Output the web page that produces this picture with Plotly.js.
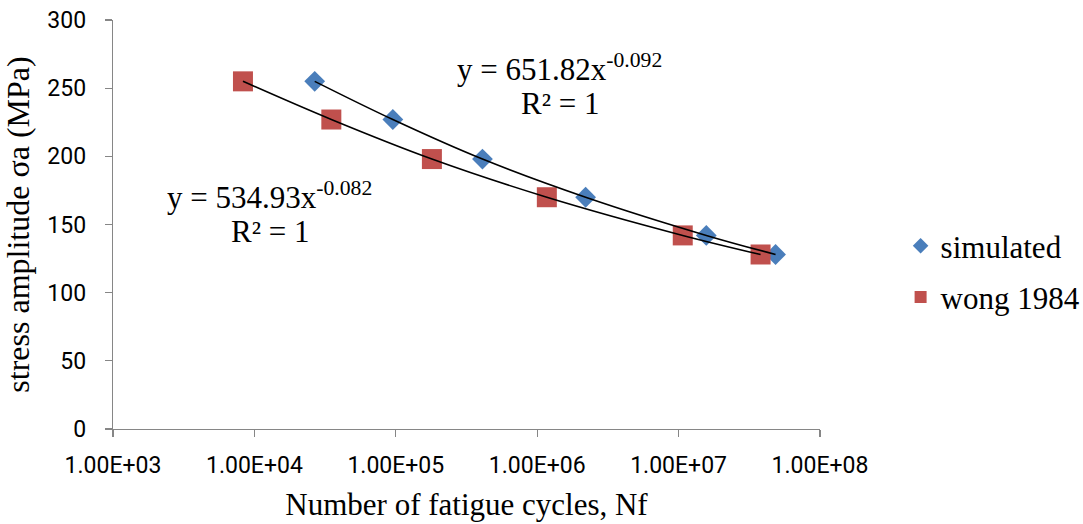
<!DOCTYPE html>
<html>
<head>
<meta charset="utf-8">
<script src="https://cdn.plot.ly/plotly-3.0.1.min.js"></script>
<style>html,body{margin:0;padding:0;background:#fff}#chart{width:1083px;height:524px}</style>
</head>
<body>
<div id="chart"></div>
<script>
// Data
const simulatedCycles = [26700, 95300, 410000, 2200000, 15700000, 48500000];
const simulatedStress = [255, 227, 198, 170, 142, 128];
const wongCycles = [8300, 35000, 180000, 1170000, 10700000, 38000000];
const wongStress = [255, 227, 198, 170, 142, 128];
const xTickVals = [1e3, 1e4, 1e5, 1e6, 1e7, 1e8];
const xTickText = ["1.00E+03", "1.00E+04", "1.00E+05", "1.00E+06", "1.00E+07", "1.00E+08"];
const simulatedFitText = ["y = 651.82x<sup>-0.092</sup>", "R² = 1"];
const wongFitText = ["y = 534.93x<sup>-0.082</sup>", "R² = 1"];

const serif = "Liberation Serif, Times New Roman, serif";
const sans = "Roboto, sans-serif";

const traces = [
  {x: simulatedCycles, y: simulatedStress, mode: "markers", name: "simulated", legendgroup: "a",
   marker: {symbol: "diamond", size: 16, color: "#4a7ebb"}},
  {x: wongCycles, y: wongStress, mode: "markers", name: "wong 1984", legendgroup: "b",
   marker: {symbol: "square", size: 20, color: "#c0504d"}},
  {x: simulatedCycles, y: simulatedStress, mode: "lines", line: {color: "#000", width: 1.6, shape: "spline"}, showlegend: false, hoverinfo: "skip"},
  {x: wongCycles, y: wongStress, mode: "lines", line: {color: "#000", width: 1.6, shape: "spline"}, showlegend: false, hoverinfo: "skip"}
];

const annFont = {family: serif, size: 31, color: "#000"};
function ann(x, y, text) {
  return {xref: "paper", yref: "paper", x: x, y: y, xanchor: "center", yanchor: "middle",
          text: text, showarrow: false, font: annFont};
}
const layout = {
  width: 1083, height: 524,
  margin: {l: 113, r: 263, t: 20, b: 95, autoexpand: false},
  paper_bgcolor: "#fff", plot_bgcolor: "#fff",
  showlegend: true,
  legend: {x: 1.114, xanchor: "left", y: 0.385, yanchor: "middle", font: {family: serif, size: 31, color: "#000"},
           tracegroupgap: 8, itemsizing: "constant", bgcolor: "rgba(0,0,0,0)"},
  xaxis: {type: "log", range: [3, 8], tickvals: xTickVals, ticktext: xTickText, automargin: false,
          showgrid: false, zeroline: false, showline: true, linecolor: "#868686", linewidth: 1.3,
          ticks: "outside", ticklen: 7, tickcolor: "#868686", tickwidth: 1.3,
          ticklabelstandoff: 8,
          tickfont: {family: sans, size: 23, color: "#000"},
          title: {text: "Number of fatigue cycles, Nf", font: {family: serif, size: 31, color: "#000"}, standoff: 15}},
  yaxis: {range: [0, 300], dtick: 50, showgrid: false, zeroline: false, showline: true, linecolor: "#868686", linewidth: 1.3,
          ticks: "outside", ticklen: 7, tickcolor: "#868686", tickwidth: 1.3, automargin: false,
          ticklabelstandoff: 14,
          tickfont: {family: sans, size: 23, color: "#000"},
          title: {text: "stress amplitude σa (MPa)", font: {family: serif, size: 32, color: "#000"}, standoff: 10}},
  annotations: [
    ann(0.632, 0.883, simulatedFitText[0]),
    ann(0.632, 0.797, simulatedFitText[1]),
    ann(0.222, 0.572, wongFitText[0]),
    ann(0.222, 0.484, wongFitText[1])
  ]
};
Plotly.newPlot("chart", traces, layout, {displayModeBar: false, staticPlot: true});
</script>
</body>
</html>
